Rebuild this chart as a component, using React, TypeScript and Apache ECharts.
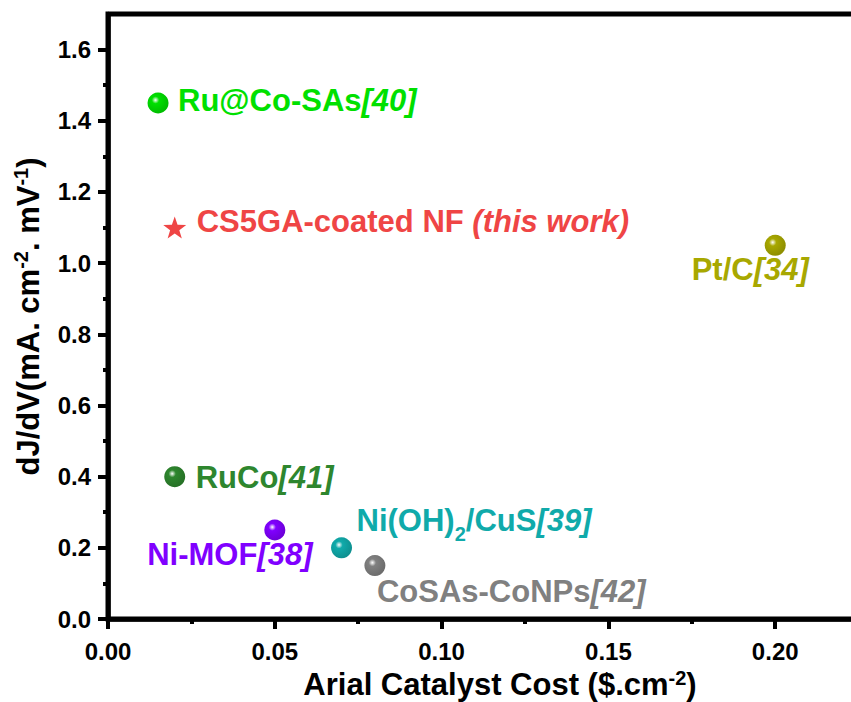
import React, { useEffect, useRef } from "react";
import * as echarts from "echarts";

// ---- data ----
const NAMES = ["Ru@Co-SAs", "CS5GA-coated NF", "Pt/C", "RuCo", "Ni-MOF", "Ni(OH)₂/CuS", "CoSAs-CoNPs"];
const REFS = ["[40]", " (this work)", "[34]", "[41]", "[38]", "[39]", "[42]"];
const COST = [0.015, 0.02, 0.2, 0.02, 0.05, 0.07, 0.08];
const DJDV = [1.45, 1.1, 1.05, 0.4, 0.25, 0.2, 0.15];
const X_TICKS = [0, 0.05, 0.1, 0.15, 0.2];
const X_MINOR = [0.025, 0.075, 0.125, 0.175, 0.225];
const Y_TICKS = [0, 0.2, 0.4, 0.6, 0.8, 1.0, 1.2, 1.4, 1.6];
const Y_MINOR = [0.1, 0.3, 0.5, 0.7, 0.9, 1.1, 1.3, 1.5];

// ---- styles ----
const COLORS = ["#00e000", "#ef4545", "#a8a800", "#2e862e", "#8000ff", "#10aaaa", "#808080"];
const MARKERS = ["sphere", "star", "sphere", "sphere", "sphere", "sphere", "sphere"];
const LABEL_ALIGN = ["left", "left", "center", "left", "center", "left", "left"];
const LABEL_OFFSET: [number, number][] = [
  [20, -2],
  [22, -6],
  [-25, 24],
  [21, 1],
  [-45, 24],
  [15, -27],
  [2, 26],
];

const FONT = "'Liberation Sans', Arial, Helvetica, sans-serif";
const STAR =
  "path://M0,-10 L2.35,-3.24 L9.51,-3.09 L3.8,1.24 L5.88,8.09 L0,4 L-5.88,8.09 L-3.8,1.24 L-9.51,-3.09 L-2.35,-3.24 Z";

function shade(hex: string, f: number) {
  const n = parseInt(hex.slice(1), 16);
  const r = Math.round(((n >> 16) & 255) * f);
  const g = Math.round(((n >> 8) & 255) * f);
  const b = Math.round((n & 255) * f);
  return `rgb(${r},${g},${b})`;
}

function buildData() {
  return NAMES.map((name, i) => {
    const color = COLORS[i];
    const isStar = MARKERS[i] === "star";
    const labelText =
      "{n|" + name.replace("₂", "}{s|2}{n|") + "}" + "{r|" + REFS[i] + "}";
    const tok = { fontFamily: FONT, fontWeight: "bold", color, textBorderWidth: 0 };
    return {
      name,
      value: [COST[i], DJDV[i]],
      symbol: isStar ? STAR : "circle",
      symbolSize: isStar ? 23 : 21,
      symbolKeepAspect: true,
      itemStyle: isStar
        ? { color, opacity: 1 }
        : {
            opacity: 1,
            color: new echarts.graphic.RadialGradient(0.38, 0.36, 0.62, [
              { offset: 0, color: "#ffffff" },
              { offset: 0.28, color: color },
              { offset: 1, color: shade(color, 0.85) },
            ]),
          },
      label: {
        show: true,
        position: ["50%", "50%"],
        align: LABEL_ALIGN[i],
        verticalAlign: "middle",
        offset: LABEL_OFFSET[i],
        color,
        opacity: 1,
        textBorderWidth: 0,
        formatter: labelText,
        rich: {
          n: { ...tok, fontSize: 31, lineHeight: 46 },
          r: { ...tok, fontSize: 31, fontStyle: "italic", lineHeight: 46 },
          s: { ...tok, fontSize: 20, lineHeight: 20, verticalAlign: "bottom" },
        },
      },
    };
  });
}

const tickLabel = { fontFamily: FONT, fontSize: 24, fontWeight: "bold" as const, color: "#000" };
const nameStyle = {
  fontFamily: FONT,
  fontSize: 31,
  fontWeight: "bold" as const,
  color: "#000",
  lineHeight: 34,
  rich: {
    sup: { fontFamily: FONT, fontSize: 20, fontWeight: "bold", color: "#000", lineHeight: 22, verticalAlign: "top" },
  },
};

export default function App() {
  const ref = useRef<HTMLDivElement>(null);
  useEffect(() => {
    const chart = echarts.init(ref.current!, null, { renderer: "svg" });
    chart.setOption({
      animation: false,
      backgroundColor: "#fff",
      grid: {
        left: 108,
        top: 14,
        right: 8,
        bottom: 83,
        containLabel: false,
        outerBoundsMode: "none",
        show: true,
        borderColor: "#000",
        borderWidth: 5,
        backgroundColor: "transparent",
      },
      xAxis: [
        {
          type: "value",
          position: "bottom",
          min: 0,
          max: 0.235,
          interval: 0.05,
          splitLine: { show: false },
          axisLine: { show: true, lineStyle: { color: "#000", width: 4.5 } },
          axisTick: { show: true, length: 10, customValues: X_TICKS, lineStyle: { color: "#000", width: 4 } },
          axisLabel: {
            ...tickLabel,
            margin: 20,
            customValues: X_TICKS,
            formatter: (v: number) => v.toFixed(2),
          },
          name: "Arial Catalyst Cost ($.cm{sup|-2})",
          nameLocation: "middle",
          nameGap: 47,
          nameTextStyle: nameStyle,
        },
        {
          type: "value",
          position: "bottom",
          min: 0,
          max: 0.235,
          interval: 0.05,
          splitLine: { show: false },
          axisLine: { show: false },
          axisTick: { show: true, length: 5, customValues: X_MINOR, lineStyle: { color: "#000", width: 4 } },
          axisLabel: { show: false },
        },
      ],
      yAxis: [
        {
          type: "value",
          position: "left",
          min: 0,
          max: 1.7,
          interval: 0.2,
          splitLine: { show: false },
          axisLine: { show: true, lineStyle: { color: "#000", width: 4.5 } },
          axisTick: { show: true, length: 10, customValues: Y_TICKS, lineStyle: { color: "#000", width: 4 } },
          axisLabel: {
            ...tickLabel,
            margin: 17,
            customValues: Y_TICKS,
            formatter: (v: number) => v.toFixed(1),
          },
          name: "dJ/dV(mA. cm{sup|-2}. mV{sup|-1})",
          nameLocation: "middle",
          nameRotate: 90,
          nameGap: 63,
          nameTextStyle: nameStyle,
        },
        {
          type: "value",
          position: "left",
          min: 0,
          max: 1.7,
          interval: 0.2,
          splitLine: { show: false },
          axisLine: { show: false },
          axisTick: { show: true, length: 5, customValues: Y_MINOR, lineStyle: { color: "#000", width: 4 } },
          axisLabel: { show: false },
        },
      ],
      series: [
        {
          type: "scatter",
          xAxisIndex: 0,
          yAxisIndex: 0,
          data: buildData(),
          itemStyle: { opacity: 1 },
          emphasis: { disabled: true },
          clip: false,
        },
      ],
    });
    return () => chart.dispose();
  }, []);
  return (
    <div
      style={{
        position: "fixed",
        left: 0,
        top: 0,
        width: 851,
        height: 702,
        overflow: "hidden",
        background: "#fff",
      }}
    >
      <div ref={ref} style={{ width: 900, height: 702 }} />
    </div>
  );
}
